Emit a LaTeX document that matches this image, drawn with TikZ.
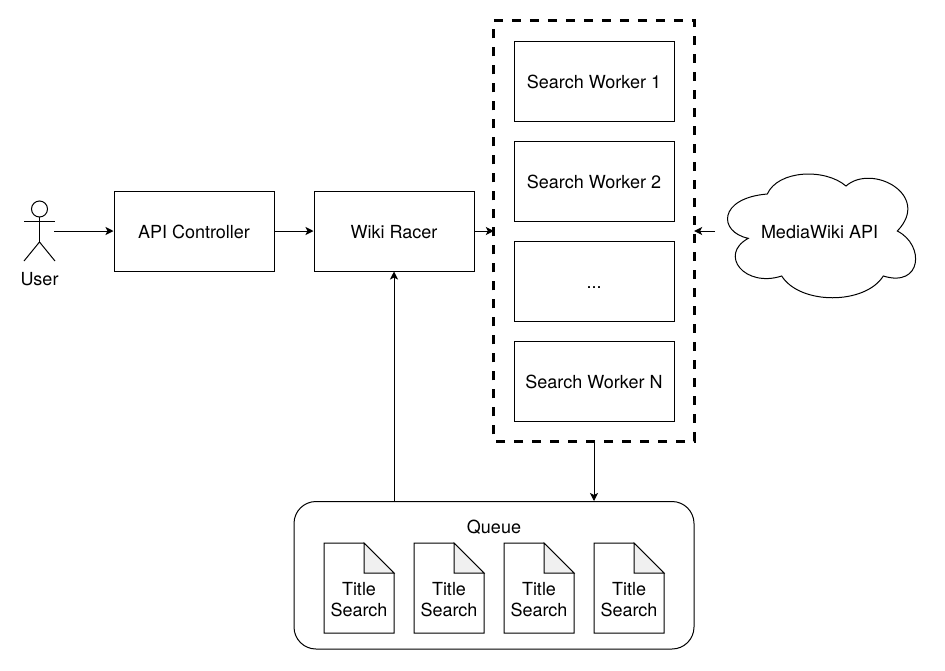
\documentclass[tikz,border=0pt]{standalone}
\usepackage{fontspec}
\setmainfont{TeX Gyre Heros}
\usetikzlibrary{arrows.meta,positioning}
\definecolor{foldgray}{HTML}{F0F0F0}
\tikzset{
  boxnode/.style={draw=black,line width=1pt,minimum width=160pt,minimum height=80pt,inner sep=0pt,align=center,text height=15pt,text depth=0pt},
  dashnode/.style={minimum width=200pt,minimum height=420pt,inner sep=0pt},
  dashline/.style={black,line width=3pt,dash pattern=on 9pt off 9pt},
  queuenode/.style={draw=black,line width=1pt,rounded corners=22pt,minimum width=400pt,minimum height=147.5pt,inner sep=0pt},
  plainline/.style={black,line width=1pt},
  flow/.style={plainline,-{Stealth[length=8pt,width=8pt,inset=2pt]}},
  textnode/.style={inner sep=0pt,align=center},
}
\begin{document}
\begin{tikzpicture}[x=1pt,y=-1pt,font=\fontsize{18}{21}\selectfont]
\useasboundingbox (0,0) rectangle (945,670);
% user
\draw [plainline] (39.5,209) circle (8);
\draw [plainline] (39.5,217) -- (39.5,242);
\draw [plainline] (24,221) -- (55,221);
\draw [plainline] (24,261) -- (39.5,242) -- (55,261);
\node [textnode] (user) at (39.5,279) {User};
\coordinate (userport) at (54,231);
% boxes
\node [boxnode] (api) at (194,231) {API Controller};
\node [boxnode] (racer) at (394,231) {Wiki Racer};
\node [dashnode] (workers) at (594,231) {};
\draw [dashline] (workers.north west) -- (workers.north east) -- (workers.south east) -- (workers.south west) -- cycle;
\node [boxnode] (workera) at (594,81) {Search Worker 1};
\node [boxnode] (workerb) at (594,181) {Search Worker 2};
\node [boxnode] (workerc) at (594,281) {...};
\node [boxnode] (workerd) at (594,381) {Search Worker N};
% cloud
\draw [plainline] (748.3,238.3) .. controls (718,232) and (718,198) .. (767.3,194)
  .. controls (778,170) and (825,168) .. (846,186)
  .. controls (872,163) and (932,195) .. (897.3,231)
  .. controls (925,245) and (922,288) .. (883.3,276)
  .. controls (865,305) and (800,305) .. (781.7,276)
  .. controls (745,288) and (718,255) .. (748.3,238.3) -- cycle;
\node [textnode] (wiki) at (819.5,232) {MediaWiki API};
\coordinate (wikiport) at (715,231);
% queue
\node [queuenode] (queue) at (494,575.25) {};
\node [textnode] (queuelabel) at (494,527) {Queue};
\draw [plainline,fill=white] (324,543) -- (364,543) -- (394,573) -- (394,633) -- (324,633) -- cycle;
\draw [plainline,fill=foldgray] (364,543) -- (364,573) -- (394,573) -- cycle;
\node [textnode] (doca) at (359,600) {Title\\Search};
\draw [plainline,fill=white] (414,543) -- (454,543) -- (484,573) -- (484,633) -- (414,633) -- cycle;
\draw [plainline,fill=foldgray] (454,543) -- (454,573) -- (484,573) -- cycle;
\node [textnode] (docb) at (449,600) {Title\\Search};
\draw [plainline,fill=white] (504,543) -- (544,543) -- (574,573) -- (574,633) -- (504,633) -- cycle;
\draw [plainline,fill=foldgray] (544,543) -- (544,573) -- (574,573) -- cycle;
\node [textnode] (docc) at (539,600) {Title\\Search};
\draw [plainline,fill=white] (594,543) -- (634,543) -- (664,573) -- (664,633) -- (594,633) -- cycle;
\draw [plainline,fill=foldgray] (634,543) -- (634,573) -- (664,573) -- cycle;
\node [textnode] (docd) at (629,600) {Title\\Search};
% connectors
\draw [flow] (userport) -- (api);
\draw [flow] (api) -- (racer);
\draw [flow] (racer) -- (workers);
\draw [flow] (wikiport) -- (workers);
\draw [flow] (workers.south) -- (queue.north -| workers.south);
\draw [flow] (queue.north -| racer.south) -- (racer.south);
\end{tikzpicture}
\end{document}
